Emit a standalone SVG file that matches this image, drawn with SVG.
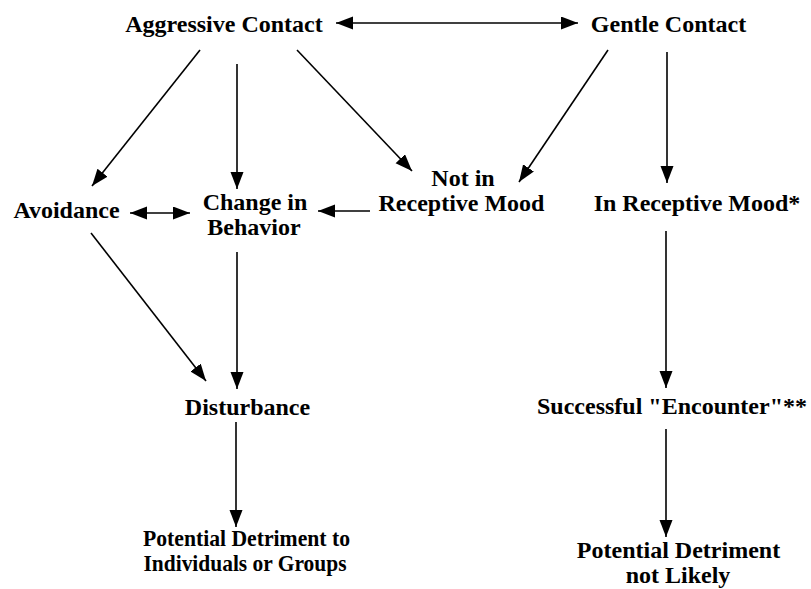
<svg xmlns="http://www.w3.org/2000/svg" width="811" height="589" viewBox="0 0 811 589">
<style>
  .lbl { font-family: "Liberation Serif", "Times New Roman", serif; font-weight: bold; font-size: 24px; fill: #000; text-anchor: middle; }
  .edge { stroke: #000; stroke-width: 1.6; fill: none; marker-end: url(#ah); }
  .both { marker-start: url(#ah); }
</style>
<defs>
  <marker id="ah" markerUnits="userSpaceOnUse" markerWidth="18" markerHeight="14" refX="17" refY="6.5" orient="auto-start-reverse">
    <path d="M0,0 L17,6.5 L0,13 Z" fill="#000"/>
  </marker>
</defs>
<rect width="811" height="589" fill="#fff"/>
<g id="connectors">
  <line class="edge both" x1="336" y1="23" x2="578" y2="23"/>
  <line class="edge" x1="200" y1="50" x2="92" y2="186"/>
  <line class="edge" x1="237" y1="64" x2="237" y2="189"/>
  <line class="edge" x1="297" y1="50" x2="412" y2="171"/>
  <line class="edge" x1="608" y1="50" x2="519" y2="182"/>
  <line class="edge" x1="667" y1="52" x2="667" y2="183"/>
  <line class="edge both" x1="130" y1="213" x2="190" y2="213"/>
  <line class="edge" x1="370" y1="211" x2="318" y2="211"/>
  <line class="edge" x1="91" y1="233" x2="206" y2="381"/>
  <line class="edge" x1="237" y1="252" x2="237" y2="389"/>
  <line class="edge" x1="666" y1="231" x2="666" y2="388"/>
  <line class="edge" x1="236" y1="422" x2="236" y2="527"/>
  <line class="edge" x1="666" y1="429" x2="666" y2="537"/>
</g>
<g id="aggressive-contact"><text class="lbl" x="224" y="32">Aggressive Contact</text></g>
<g id="gentle-contact"><text class="lbl" x="668.5" y="32">Gentle Contact</text></g>
<g id="avoidance"><text class="lbl" x="66.5" y="218">Avoidance</text></g>
<g id="change-in-behavior"><text class="lbl" x="255" y="210">Change in</text><text class="lbl" x="254" y="235">Behavior</text></g>
<g id="not-in-receptive-mood"><text class="lbl" x="463" y="186">Not in</text><text class="lbl" x="461.5" y="211">Receptive Mood</text></g>
<g id="in-receptive-mood"><text class="lbl" x="697" y="211">In Receptive Mood*</text></g>
<g id="disturbance"><text class="lbl" x="247.5" y="415">Disturbance</text></g>
<g id="successful-encounter"><text class="lbl" x="672" y="414">Successful "Encounter"**</text></g>
<g id="detriment-groups"><text class="lbl" x="246.5" y="546" textLength="207" lengthAdjust="spacingAndGlyphs">Potential Detriment to</text><text class="lbl" x="245" y="571" textLength="203" lengthAdjust="spacingAndGlyphs">Individuals or Groups</text></g>
<g id="detriment-not-likely"><text class="lbl" x="678.5" y="558">Potential Detriment</text><text class="lbl" x="678" y="583">not Likely</text></g>
</svg>
